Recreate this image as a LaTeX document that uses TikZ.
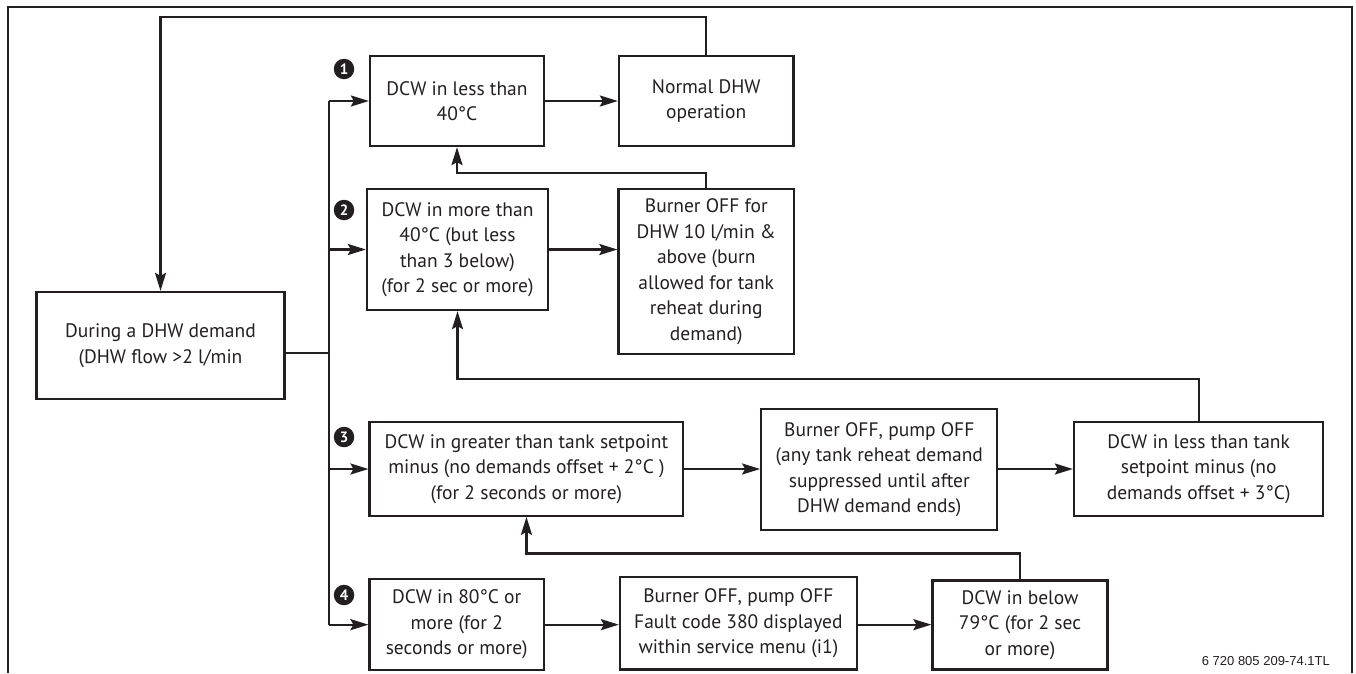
\documentclass[tikz,border=0pt]{standalone}
\usepackage{fontspec}
\setmainfont{PT Sans}
\newfontfamily\capfont{Liberation Sans}
\usetikzlibrary{arrows.meta,calc}
\definecolor{ink}{HTML}{231F20}
\begin{document}
\begin{tikzpicture}[x=1pt,y=-1pt,
  box/.style={draw=ink, line width=2.3pt, align=center, inner sep=0pt, text=ink,
              font=\fontsize{19.5}{25.5}\selectfont},
  conn/.style={draw=ink, line width=2.3pt},
  arr/.style={conn, -{Stealth[length=18pt,width=11pt,inset=3pt]}},
  num/.style={circle, fill=ink, text=white, inner sep=0pt, minimum size=20.5pt,
              font=\fontsize{15}{15}\selectfont\bfseries}]
\useasboundingbox (0,0) rectangle (1356,673);
% frame
\draw[conn] (8,673) -- (8,7.3) -- (1352,7.3) -- (1352,673);
% boxes
\node[box, minimum width=248pt, minimum height=107pt] (dhw) at (160.5,345.5)
  {During a DHW demand\\(DHW flow >2 l/min};
\node[box, minimum width=174pt, minimum height=90pt] (b1) at (457,101)
  {DCW in less than\\40°C};
\node[box, minimum width=174.5pt, minimum height=90pt] (nrm) at (706.25,101)
  {Normal DHW\\operation};
\node[box, minimum width=181pt, minimum height=121pt] (b2) at (457.5,249.5)
  {DCW in more than\\40°C (but less\\than 3 below)\\(for 2 sec or more)};
\node[box, minimum width=175.5pt, minimum height=165.3pt] (brn2) at (706.25,271.65)
  {Burner OFF for\\DHW 10 l/min \&\\above (burn\\allowed for tank\\reheat during\\demand)};
\node[box, minimum width=313.7pt, minimum height=93.4pt] (b3) at (526.45,469)
  {DCW in greater than tank setpoint\\minus (no demands offset + 2°C )\\(for 2 seconds or more)};
\node[box, minimum width=236pt, minimum height=121pt] (brn3) at (879.3,469.5)
  {Burner OFF, pump OFF\\(any tank reheat demand\\suppressed until after\\DHW demand ends)};
\node[box, minimum width=249.3pt, minimum height=93.4pt] (lt) at (1198.65,469)
  {DCW in less than tank\\setpoint minus (no\\demands offset + 3°C)};
\node[box, minimum width=174.2pt, minimum height=90.7pt] (b4) at (456.7,624.65)
  {DCW in 80°C or\\more (for 2\\seconds or more)};
\node[box, minimum width=236.8pt, minimum height=92.2pt] (brn4) at (738.4,623.4)
  {Burner OFF, pump OFF\\Fault code 380 displayed\\within service menu (i1)};
\node[box, minimum width=175pt, minimum height=89pt] (b79) at (1020,625)
  {DCW in below\\79°C (for 2 sec\\or more)};
% numbers
\node[num] (n1) at (344,69) {1};
\node[num] (n2) at (344,210) {2};
\node[num] (n3) at (344,437) {3};
\node[num] (n4) at (344,595) {4};
% helper coordinates
\coordinate (bus) at (329.3,0);
\coordinate (top) at (0,17.3);
\coordinate (fb1) at (0,172.7);
\coordinate (fb2) at (0,379);
\coordinate (fb3) at (0,553.5);
% bus
\draw[conn] ([yshift=-7.5pt]dhw.east) -- ([yshift=-7.5pt]dhw.east -| bus);
\draw[conn] (b1.west -| bus) -- (b4.west -| bus);
\draw[arr] (b1.west -| bus) -- (b1.west);
\draw[arr] (b2.west -| bus) -- (b2.west);
\draw[arr] (b3.west -| bus) -- (b3.west);
\draw[arr] (b4.west -| bus) -- (b4.west);
% forward arrows
\draw[arr] (b1.east) -- (b1.east -| nrm.west);
\draw[arr] (b2.east) -- (b2.east -| brn2.west);
\draw[arr] (b3.east) -- (b3.east -| brn3.west);
\draw[arr] (brn3.east |- b3.east) -- (b3.east -| lt.west);
\draw[arr] (b4.east) -- (b4.east -| brn4.west);
\draw[arr] (brn4.east |- b4.east) -- (b4.east -| b79.west);
% feedback
\draw[arr] (nrm.north) -- (nrm.north |- top) -| (dhw.north);
\draw[arr] (brn2.north) -- (brn2.north |- fb1) -| (b1.south);
\draw[arr] (lt.north) -- (lt.north |- fb2) -| (b2.south);
\draw[arr] (b79.north) -- (b79.north |- fb3) -| (b3.south);
% caption
\node[anchor=east, inner sep=0pt, text=ink, font=\capfont\fontsize{13}{13}\selectfont] (cap)
  at (1330,661) {6 720 805 209-74.1TL};
\end{tikzpicture}
\end{document}
